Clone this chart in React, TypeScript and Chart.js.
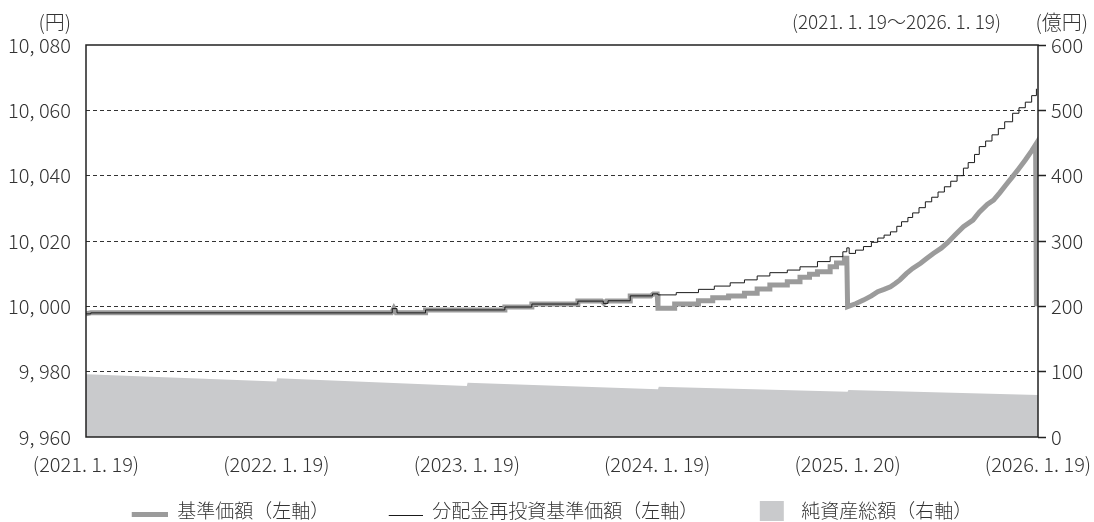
import { useEffect, useRef } from 'react';
import { Chart, registerables } from 'chart.js';

Chart.register(...registerables);

const FONT = '"Noto Sans CJK JP", "Noto Sans", sans-serif';
const WEIGHT = '300';

// x positions are months elapsed since 2021.1.19
const xTickMonths = [0, 12, 24, 36, 48, 60];
const xTickLabels = ['(2021. 1. 19)', '(2022. 1. 19)', '(2023. 1. 19)', '(2024. 1. 19)', '(2025. 1. 20)', '(2026. 1. 19)'];

const seriesNames = ['基準価額（左軸）', '分配金再投資基準価額（左軸）', '純資産総額（右軸）'];
const leftUnit = '(円)';
const rightUnit = '(億円)';
const periodLabel = '(2021. 1. 19～2026. 1. 19)';

// 基準価額 (yen) — polyline vertices (repeated month = vertical step)
const navMonths = [0, 0.3, 19.25, 19.4, 19.55, 21.4, 21.4, 26.4, 26.4, 28.1, 28.1, 31.0, 31.0,
  32.5, 32.65, 32.8, 34.3, 34.3, 35.6, 35.75, 36.0, 36.05, 37.1, 37.1, 38.6, 38.6,
  39.5, 39.5, 40.5, 40.5, 41.5, 41.5, 42.3, 42.3, 43.1, 43.1, 44.2, 44.2, 45.0, 45.0, 45.6, 45.6,
  46.1, 46.1, 46.9, 46.9, 47.3, 47.3, 47.8, 47.8, 47.95, 48.0,
  48.5, 49.0, 49.5, 49.9, 50.3, 50.7, 51.0, 51.3, 51.7, 52.1, 52.6, 53.0, 53.4, 53.9, 54.3, 54.8,
  55.3, 55.9, 56.3, 56.8, 57.2, 57.6, 58.0, 58.4, 58.8, 59.2, 59.6, 59.85, 59.9];
const navValues = [9997.7, 9998.0, 9998.0, 9999.4, 9998.0, 9998.0, 9998.9, 9998.9, 9999.8, 9999.8, 10000.7, 10000.7, 10001.6,
  10001.6, 10000.9, 10001.6, 10001.6, 10003.2, 10003.2, 10003.8, 10003.8, 9999.4, 9999.4, 10000.7, 10000.7, 10001.7,
  10001.7, 10002.6, 10002.6, 10003.2, 10003.2, 10004.0, 10004.0, 10005.3, 10005.3, 10006.5, 10006.5, 10007.5, 10007.5, 10008.9, 10008.9, 10009.8,
  10009.8, 10010.6, 10010.6, 10012.1, 10012.1, 10013.3, 10013.3, 10014.7, 10014.7, 9999.9,
  10000.8, 10001.9, 10003.2, 10004.5, 10005.2, 10006.0, 10007.0, 10008.1, 10010.0, 10011.6, 10013.2, 10014.7, 10016.2, 10017.8, 10019.5, 10022.0,
  10024.4, 10026.4, 10028.8, 10031.2, 10032.5, 10034.8, 10037.3, 10039.7, 10042.2, 10044.8, 10047.6, 10049.5, 10000.0];

// 分配金再投資基準価額 (yen) — step values, each holds from its month onward
const reinvMonths = [0, 0.3, 19.3, 19.6, 21.4, 26.4, 28.1, 31.0, 32.6, 32.9, 34.3, 35.7, 36.05, 37.2, 38.6,
  39.6, 40.6, 41.5, 42.3, 43.1, 44.2, 45.0, 46.1, 46.9, 47.7, 47.95, 48.1,
  48.5, 49.0, 49.5, 49.9, 50.3, 50.7, 51.1, 51.4, 51.8, 52.1, 52.5, 52.9, 53.3, 53.7, 54.1, 54.5, 54.9,
  55.3, 55.6, 56.0, 56.3, 56.7, 57.1, 57.5, 57.9, 58.4, 58.8, 59.2, 59.6, 59.9];
const reinvValues = [9997.7, 9998.0, 9999.3, 9998.0, 9998.9, 9999.8, 10000.7, 10001.6, 10000.9, 10001.7, 10003.2, 10003.8, 10003.5, 10004.2, 10005.2,
  10006.2, 10007.2, 10008.1, 10009.3, 10010.3, 10011.1, 10012.1, 10013.7, 10015.2, 10016.7, 10017.9, 10016.2,
  10017.2, 10018.3, 10019.6, 10020.9, 10021.8, 10022.8, 10024.5, 10025.9, 10027.2, 10028.6, 10030.2, 10032.0, 10033.4, 10035.0, 10036.6, 10038.3, 10040.0,
  10042.3, 10044.0, 10046.5, 10048.9, 10050.6, 10052.5, 10054.4, 10056.5, 10059.1, 10060.8, 10062.5, 10064.5, 10066.6];

// 純資産総額 (億円)
const assetMonths = [0, 12, 12.05, 24, 24.05, 36.05, 36.1, 48, 48.05, 60];
const assetValues = [96, 85, 90, 78, 83, 73, 77, 69.4, 72, 64.3];

const fmtYen = (v: number) => Number(v).toLocaleString('en-US').replace(',', ', ');

function makeSample(w: number, h: number, draw: (c: CanvasRenderingContext2D) => void) {
  const cv = document.createElement('canvas');
  cv.width = w;
  cv.height = h;
  const c = cv.getContext('2d');
  if (c) draw(c);
  return cv;
}

const framePlugin = {
  id: 'frameAndUnits',
  afterLayout(chart: any) {
    const lg = chart.legend;
    if (lg) {
      lg.left -= 12;
      lg.right -= 12;
    }
  },
  afterDatasetsDraw(chart: any) {
    const { ctx, chartArea: a } = chart;
    ctx.save();
    ctx.strokeStyle = '#222';
    ctx.lineWidth = 1.5;
    ctx.strokeRect(a.left, a.top, a.right - a.left, a.bottom - a.top);
    ctx.restore();
  },
  afterDraw(chart: any) {
    const { ctx, chartArea: a } = chart;
    ctx.save();
    ctx.fillStyle = '#333';
    ctx.textBaseline = 'middle';
    ctx.textAlign = 'right';
    ctx.font = `${WEIGHT} 20px ${FONT}`;
    ctx.fillText(leftUnit, a.left - 15, 22);
    ctx.fillText(rightUnit, a.right + 50, 22);
    ctx.font = `${WEIGHT} 19px ${FONT}`;
    ctx.fillText(periodLabel, a.right - 37, 22);
    ctx.restore();
  },
};

export default function App() {
  const ref = useRef<HTMLCanvasElement | null>(null);

  useEffect(() => {
    document.body.style.margin = '0';
    const canvas = ref.current;
    if (!canvas) return;

    const samples = [
      makeSample(70, 12, (c) => { c.fillStyle = '#9b9b9b'; c.fillRect(34, 7, 36, 5); }),
      makeSample(70, 10, (c) => { c.fillStyle = '#1a1a1a'; c.fillRect(36, 9, 34, 1); }),
      makeSample(70, 24, (c) => { c.fillStyle = '#c9cacc'; c.fillRect(38, 2, 24, 20); }),
    ];

    const tickFont = { size: 20, family: FONT, weight: WEIGHT };

    const chart = new Chart(canvas, {
      type: 'line',
      data: {
        datasets: [
          {
            label: seriesNames[0],
            data: navMonths.map((m, i) => ({ x: m, y: navValues[i] })),
            yAxisID: 'y',
            borderColor: '#9b9b9b',
            borderWidth: 5,
            pointRadius: 0,
            fill: false,
            order: 1,
          },
          {
            label: seriesNames[1],
            data: reinvMonths.map((m, i) => ({ x: m, y: reinvValues[i] })),
            yAxisID: 'y',
            borderColor: '#1a1a1a',
            borderWidth: 1,
            stepped: true,
            pointRadius: 0,
            fill: false,
            order: 0,
          },
          {
            label: seriesNames[2],
            data: assetMonths.map((m, i) => ({ x: m, y: assetValues[i] })),
            yAxisID: 'y2',
            borderWidth: 0,
            borderColor: 'rgba(0,0,0,0)',
            backgroundColor: '#c9cacc',
            fill: 'origin',
            pointRadius: 0,
            order: 2,
          },
        ],
      },
      options: {
        animation: false,
        responsive: true,
        maintainAspectRatio: false,
        layout: { padding: { left: 0, right: 0, top: 45, bottom: -8.5 } },
        plugins: {
          tooltip: { enabled: false },
          legend: {
            position: 'bottom',
            labels: {
              usePointStyle: true,
              pointStyleWidth: 70,
              padding: 23.5,
              color: '#333',
              font: { size: 19, family: FONT, weight: WEIGHT },
              generateLabels: () =>
                seriesNames.map((t, i) => ({
                  text: t,
                  pointStyle: samples[i] as any,
                  fillStyle: '#999',
                  strokeStyle: 'rgba(0,0,0,0)',
                  lineWidth: 0,
                  hidden: false,
                  datasetIndex: i,
                  fontColor: '#333',
                })),
            },
          },
        },
        scales: {
          x: {
            type: 'linear',
            min: 0,
            max: 60,
            grid: { display: false, drawTicks: false },
            border: { display: false },
            ticks: {
              autoSkip: false,
              maxRotation: 0,
              padding: 15,
              color: '#333',
              font: tickFont,
              callback: (v: any) => {
                const i = xTickMonths.indexOf(Number(v));
                return i >= 0 ? xTickLabels[i] : '';
              },
            },
            afterBuildTicks: (s: any) => {
              s.ticks = xTickMonths.map((v) => ({ value: v }));
            },
            afterFit: (s: any) => {
              s.height = 41;
              s.paddingLeft = 0;
              s.paddingRight = 0;
            },
          },
          y: {
            position: 'left',
            min: 9960,
            max: 10080,
            ticks: {
              stepSize: 20,
              padding: 15,
              color: '#333',
              font: tickFont,
              callback: (v: any) => fmtYen(Number(v)),
            },
            grid: {
              drawTicks: false,
              lineWidth: 1,
              color: (c: any) =>
                c.tick && (c.tick.value === 9960 || c.tick.value === 10080) ? 'rgba(0,0,0,0)' : '#333',
            },
            border: { display: false, dash: [4, 3] },
            afterFit: (s: any) => {
              s.width = 86;
            },
          },
          y2: {
            position: 'right',
            min: 0,
            max: 600,
            ticks: {
              stepSize: 100,
              padding: 5,
              color: '#333',
              font: tickFont,
            },
            grid: { drawOnChartArea: false, drawTicks: true, tickLength: 8, tickColor: '#222', tickWidth: 1.5 },
            border: { display: false },
            afterFit: (s: any) => {
              s.width = 56;
            },
          },
        },
      } as any,
      plugins: [framePlugin],
    });

    return () => chart.destroy();
  }, []);

  return (
    <div style={{ width: 1094, height: 522, position: 'relative' }}>
      <canvas ref={ref} />
    </div>
  );
}
